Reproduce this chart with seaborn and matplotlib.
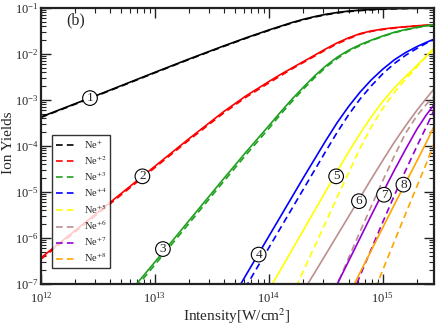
import numpy as np
import pandas as pd
import matplotlib
matplotlib.use("Agg")
import matplotlib.pyplot as plt
from matplotlib.lines import Line2D
from matplotlib.ticker import LogLocator, NullFormatter
import seaborn as sns

sns.set_style("ticks")
plt.rcParams["font.family"] = ["Liberation Serif", "DejaVu Serif"]
plt.rcParams["mathtext.fontset"] = "stix"

# intensity grid, log10(W/cm^2)
log_intensity = [12.0, 12.5, 13.0, 13.3, 13.6, 13.8, 14.0, 14.1, 14.2, 14.3, 14.4,
                 14.5, 14.6, 14.7, 14.8, 14.9, 15.0, 15.1, 15.2, 15.3, 15.38, 15.45]
nan = np.nan

# log10 of ion yields (solid / dashed)
ne1_solid = [-3.37, -2.89, -2.40, -2.11, -1.83, -1.65, -1.48, -1.40, -1.32, -1.25, -1.19,
             -1.14, -1.10, -1.07, -1.05, -1.035, -1.025, -1.017, -1.012, -1.008, -1.005, -1.003]
ne1_dash = [-3.38, -2.90, -2.41, -2.12, -1.84, -1.66, -1.49, -1.41, -1.33, -1.26, -1.20,
            -1.15, -1.11, -1.08, -1.06, -1.04, -1.03, -1.02, -1.015, -1.01, -1.007, -1.005]
ne2_solid = [-6.43, -5.44, -4.44, -3.84, -3.26, -2.91, -2.60, -2.45, -2.31, -2.17, -2.03,
             -1.89, -1.76, -1.65, -1.56, -1.50, -1.46, -1.43, -1.41, -1.39, -1.375, -1.37]
ne2_dash = [-6.46, -5.47, -4.47, -3.87, -3.29, -2.94, -2.63, -2.48, -2.33, -2.19, -2.05,
            -1.91, -1.78, -1.67, -1.57, -1.51, -1.47, -1.44, -1.41, -1.39, -1.38, -1.37]
ne3_solid = [-8.00, -8.00, -6.52, -5.62, -4.72, -4.13, -3.56, -3.27, -2.99, -2.73, -2.48,
             -2.26, -2.07, -1.92, -1.80, -1.70, -1.61, -1.53, -1.47, -1.42, -1.39, -1.37]
ne3_dash = [-8.06, -8.06, -6.58, -5.68, -4.78, -4.19, -3.62, -3.32, -3.04, -2.77, -2.52,
            -2.29, -2.10, -1.94, -1.82, -1.71, -1.62, -1.54, -1.48, -1.43, -1.39, -1.37]
ne4_solid = [nan, nan, nan, nan, -7.65, -6.80, -5.96, -5.54, -5.12, -4.70, -4.29,
             -3.88, -3.49, -3.14, -2.83, -2.56, -2.33, -2.13, -1.97, -1.84, -1.75, -1.68]
ne4_dash = [nan, nan, nan, nan, -7.90, -7.05, -6.21, -5.79, -5.37, -4.95, -4.53,
            -4.11, -3.70, -3.32, -2.98, -2.69, -2.43, -2.21, -2.03, -1.88, -1.77, -1.69]
ne5_solid = [nan, nan, nan, nan, nan, nan, -7.13, -6.70, -6.27, -5.84, -5.41,
             -4.98, -4.55, -4.13, -3.73, -3.36, -3.03, -2.74, -2.49, -2.25, -2.05, -1.87]
ne5_dash = [nan, nan, nan, nan, nan, nan, nan, nan, -7.27, -6.73, -6.19,
            -5.65, -5.11, -4.58, -4.05, -3.58, -3.18, -2.84, -2.55, -2.28, -2.06, -1.91]
ne6_solid = [nan, nan, nan, nan, nan, nan, nan, nan, nan, -7.16, -6.76,
             -6.35, -5.94, -5.53, -5.12, -4.71, -4.31, -3.92, -3.56, -3.22, -2.97, -2.76]
ne6_dash = [nan, nan, nan, nan, nan, nan, nan, nan, nan, nan, nan,
            -7.57, -7.00, -6.43, -5.86, -5.30, -4.75, -4.22, -3.72, -3.34, -3.10, -2.92]
ne7_solid = [nan, nan, nan, nan, nan, nan, nan, nan, nan, nan, nan,
             -7.50, -7.00, -6.50, -6.00, -5.50, -5.01, -4.53, -4.07, -3.63, -3.33, -3.10]
ne7_dash = [nan, nan, nan, nan, nan, nan, nan, nan, nan, nan, nan,
            nan, nan, -7.42, -6.82, -6.23, -5.65, -5.08, -4.53, -4.00, -3.59, -3.22]
ne8_solid = [nan, nan, nan, nan, nan, nan, nan, nan, nan, nan, nan,
             nan, nan, -7.25, -6.75, -6.26, -5.77, -5.28, -4.80, -4.32, -3.93, -3.57]
ne8_dash = [nan, nan, nan, nan, nan, nan, nan, nan, nan, nan, nan,
            nan, nan, nan, nan, -7.31, -6.69, -6.08, -5.47, -4.87, -4.39, -3.95]

ion_labels = ["Ne$^{+}$", "Ne$^{+2}$", "Ne$^{+3}$", "Ne$^{+4}$",
              "Ne$^{+5}$", "Ne$^{+6}$", "Ne$^{+7}$", "Ne$^{+8}$"]
colors = ["black", "red", "#1fa01f", "blue", "#ffff00", "#bc8f8f", "#9400d3", "#ffa500"]
solids = [ne1_solid, ne2_solid, ne3_solid, ne4_solid, ne5_solid, ne6_solid, ne7_solid, ne8_solid]
dashes = [ne1_dash, ne2_dash, ne3_dash, ne4_dash, ne5_dash, ne6_dash, ne7_dash, ne8_dash]

# circled curve numbers: (log I, log Y)
tag_pos = [(12.43, -2.96), (12.89, -4.66), (13.07, -6.24), (13.91, -6.36),
           (14.59, -4.66), (14.79, -5.20), (15.01, -5.06), (15.18, -4.84)]

fig = plt.figure(figsize=(4.36, 3.28), dpi=100)
ax = fig.add_axes([0.094, 0.134, 0.901, 0.842])

x = 10 ** np.array(log_intensity)
for col, sol, dsh in zip(colors, solids, dashes):
    d = pd.DataFrame({"I": x, "s": 10 ** np.array(sol), "d": 10 ** np.array(dsh)})
    sns.lineplot(data=d.dropna(subset=["s"]), x="I", y="s", ax=ax, color=col, lw=1.2,
                 estimator=None, sort=False)
    sns.lineplot(data=d.dropna(subset=["d"]), x="I", y="d", ax=ax, color=col, lw=1.2,
                 ls=(0, (4, 2.5)), estimator=None, sort=False)

ax.set_xscale("log")
ax.set_yscale("log")
ax.set_xlim(1e12, 2.8e15)
ax.set_ylim(1e-7, 1e-1)

for i, (lx, ly) in enumerate(tag_pos):
    ax.text(10 ** lx, 10 ** ly, str(i + 1), ha="center", va="center", fontsize=9.5,
            bbox=dict(boxstyle="circle,pad=0.1", fc="white", ec="black", lw=0.8))

ax.text(0.088, 0.955, "(b)", transform=ax.transAxes, ha="center", va="center", fontsize=11.5)

ax.set_xlabel("Intensity[W/cm$^2$]", fontsize=11)
ax.set_ylabel("Ion Yields", fontsize=11)
ax.xaxis.set_label_coords(0.5, -0.08)
ax.yaxis.set_label_coords(-0.067, 0.51)

ax.xaxis.set_major_locator(LogLocator(base=10, numticks=10))
ax.xaxis.set_minor_locator(LogLocator(base=10, subs=np.arange(2, 10), numticks=20))
ax.yaxis.set_major_locator(LogLocator(base=10, numticks=10))
ax.yaxis.set_minor_locator(LogLocator(base=10, subs=np.arange(2, 10), numticks=20))
ax.xaxis.set_minor_formatter(NullFormatter())
ax.yaxis.set_minor_formatter(NullFormatter())
ax.tick_params(which="both", direction="in", top=True, right=True, labelsize=9,
               color="#222222")
ax.tick_params(axis="x", which="major", pad=5)
ax.tick_params(axis="y", which="major", pad=1.5)
ax.tick_params(which="major", length=7, width=1)
ax.tick_params(which="minor", length=3.5, width=0.8)
for sp in ax.spines.values():
    sp.set_color("#222222")
    sp.set_linewidth(1.6)

handles = [Line2D([], [], color=c, lw=1.2, ls=(0, (4, 2.5))) for c in colors]
leg = ax.legend(handles, ion_labels, loc="lower left", bbox_to_anchor=(0.028, 0.058),
                borderaxespad=0, fontsize=7.5, frameon=True, fancybox=False,
                handlelength=1.8, labelspacing=0.3, borderpad=0.35, handletextpad=0.9)
leg.get_frame().set_edgecolor("black")
leg.get_frame().set_linewidth(1.0)

fig.savefig("out.png", dpi=100)
